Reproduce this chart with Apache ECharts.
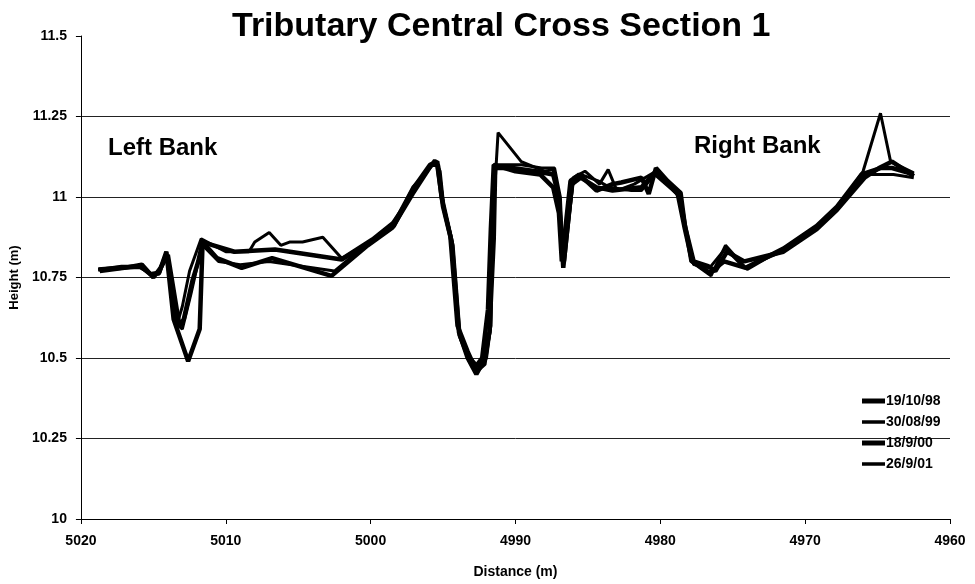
<!DOCTYPE html>
<html>
<head>
<meta charset="utf-8">
<script src="https://cdn.jsdelivr.net/npm/echarts@6/dist/echarts.min.js"></script>
<style>
  html, body { margin: 0; padding: 0; background: #fff; }
  #main { width: 975px; height: 584px; }
</style>
</head>
<body>
<div id="main"></div>
<script>
var seriesNames = ['19/10/98', '30/08/99', '18/9/00', '26/9/01'];
var yTicks = [10, 10.25, 10.5, 10.75, 11, 11.25, 11.5];
var xTicks = [5020, 5010, 5000, 4990, 4980, 4970, 4960];

// 19/10/98
var dist98 = [5018.8, 5017.2, 5015.9, 5015.2, 5014.6, 5014.1, 5013.6, 5012.6, 5011.8, 5011.6, 5010.6, 5008.9, 5006.8, 5002.7, 5000.2, 4998.5, 4997.1, 4995.8, 4995.4, 4995.0, 4994.4, 4993.9, 4993.3, 4992.7, 4992.2, 4991.8, 4991.5, 4991.4, 4990.2, 4988.6, 4987.4, 4987.0, 4986.7, 4986.1, 4985.5, 4984.4, 4983.3, 4981.3, 4980.3, 4978.8, 4978.3, 4977.8, 4976.6, 4975.6, 4974.1, 4971.5, 4969.2, 4967.8, 4966.1, 4964.8, 4964.0, 4962.5];
var h98 = [10.775, 10.78, 10.785, 10.76, 10.765, 10.83, 10.62, 10.49, 10.59, 10.86, 10.81, 10.78, 10.81, 10.755, 10.85, 10.905, 11.01, 11.1, 11.1, 10.97, 10.86, 10.58, 10.5, 10.45, 10.49, 10.58, 10.87, 11.09, 11.09, 11.08, 11.07, 11.0, 10.78, 11.04, 11.06, 11.03, 11.02, 11.03, 11.08, 11.01, 10.9, 10.8, 10.765, 10.8, 10.78, 10.84, 10.91, 10.97, 11.07, 11.09, 11.09, 11.07];

// 30/08/99
var dist99 = [5018.8, 5017.2, 5015.9, 5015.1, 5014.6, 5014.1, 5013.4, 5013.0, 5012.5, 5011.7, 5010.0, 5008.4, 5008.0, 5007.0, 5006.2, 5005.6, 5004.7, 5003.3, 5002.0, 4999.9, 4998.5, 4997.0, 4995.6, 4995.2, 4994.9, 4994.3, 4993.8, 4993.1, 4992.5, 4992.0, 4991.7, 4991.6, 4991.2, 4989.6, 4988.0, 4987.4, 4987.0, 4986.6, 4986.0, 4985.2, 4984.2, 4983.6, 4983.0, 4981.8, 4980.3, 4978.7, 4978.2, 4977.9, 4976.5, 4975.5, 4974.7, 4974.0, 4971.5, 4969.2, 4967.7, 4966.0, 4964.8, 4964.1, 4962.5];
var h99 = [10.775, 10.785, 10.785, 10.755, 10.77, 10.83, 10.6, 10.66, 10.77, 10.87, 10.83, 10.83, 10.86, 10.89, 10.85, 10.86, 10.86, 10.875, 10.81, 10.87, 10.92, 11.02, 11.115, 11.08, 10.95, 10.85, 10.56, 10.5, 10.47, 10.5, 10.6, 10.9, 11.2, 11.11, 11.08, 11.085, 11.0, 10.8, 11.06, 11.08, 11.04, 11.085, 11.02, 11.04, 11.08, 11.0, 10.88, 10.8, 10.755, 10.85, 10.81, 10.775, 10.84, 10.91, 10.97, 11.08, 11.26, 11.11, 11.075];

// 18/9/00
var dist00 = [5018.7, 5017.0, 5015.8, 5015.0, 5014.5, 5014.0, 5013.2, 5012.9, 5012.3, 5011.9, 5011.6, 5009.4, 5006.6, 5002.0, 5000.0, 4998.4, 4997.0, 4995.9, 4995.4, 4995.1, 4994.5, 4994.0, 4993.3, 4992.8, 4992.3, 4991.9, 4991.7, 4991.5, 4990.0, 4988.3, 4987.4, 4987.0, 4986.8, 4986.2, 4985.6, 4984.4, 4983.3, 4982.7, 4981.3, 4980.8, 4980.3, 4979.5, 4978.6, 4978.3, 4977.7, 4976.7, 4976.2, 4975.4, 4974.2, 4971.5, 4969.2, 4967.8, 4965.9, 4964.9, 4964.0, 4962.5];
var h00 = [10.77, 10.78, 10.79, 10.75, 10.78, 10.82, 10.6, 10.62, 10.74, 10.8, 10.86, 10.83, 10.837, 10.806, 10.86, 10.91, 11.03, 11.1, 11.11, 11.0, 10.88, 10.6, 10.52, 10.47, 10.5, 10.65, 10.9, 11.1, 11.08, 11.07, 11.03, 10.95, 10.8, 11.05, 11.07, 11.02, 11.04, 11.045, 11.06, 11.01, 11.09, 11.05, 11.013, 10.91, 10.8, 10.785, 10.77, 10.83, 10.8, 10.83, 10.9, 10.96, 11.06, 11.09, 11.11, 11.065];

// 26/9/01
var dist01 = [5018.8, 5017.2, 5015.9, 5015.1, 5014.6, 5014.1, 5013.5, 5013.0, 5012.4, 5012.0, 5011.6, 5010.5, 5009.0, 5007.0, 5002.5, 5000.1, 4998.4, 4997.1, 4995.7, 4995.3, 4995.0, 4994.4, 4993.9, 4993.2, 4992.6, 4992.1, 4991.7, 4991.5, 4989.6, 4988.2, 4987.3, 4986.9, 4986.7, 4986.0, 4985.5, 4984.3, 4983.5, 4982.0, 4981.3, 4980.4, 4978.6, 4978.2, 4977.7, 4976.6, 4975.5, 4974.2, 4971.6, 4969.3, 4967.8, 4966.0, 4964.8, 4963.9, 4962.5];
var h01 = [10.775, 10.78, 10.78, 10.76, 10.76, 10.82, 10.61, 10.59, 10.7, 10.78, 10.85, 10.8, 10.79, 10.8, 10.77, 10.86, 10.92, 11.03, 11.1, 11.1, 10.98, 10.87, 10.57, 10.49, 10.46, 10.48, 10.6, 11.1, 11.1, 11.09, 11.09, 11.0, 10.79, 11.05, 11.07, 11.05, 11.03, 11.02, 11.02, 11.07, 11.0, 10.9, 10.79, 10.78, 10.84, 10.78, 10.83, 10.9, 10.96, 11.07, 11.07, 11.07, 11.06];

var lineWidths = [4.5, 3, 4.5, 3];

function pairs(xs, ys) {
  var out = [];
  for (var i = 0; i < xs.length; i++) out.push([xs[i], ys[i]]);
  return out;
}

var allData = [pairs(dist98, h98), pairs(dist99, h99), pairs(dist00, h00), pairs(dist01, h01)];

var myChart = echarts.init(document.getElementById('main'));
var font = 'Arial, "Liberation Sans", sans-serif';

// legend bars: thick for 98 and 00, thinner for 99 and 01
var legendData = seriesNames.map(function (name, i) {
  return { name: name, icon: i % 2 === 0 ? 'path://M0,0H23V5H0Z' : 'path://M0,0H23V3.5H0Z' };
});

var option = {
  backgroundColor: '#fff',
  animation: false,
  title: {
    text: 'Tributary Central Cross Section 1',
    left: 227,
    top: 5,
    textStyle: { fontFamily: font, fontSize: 34, fontWeight: 'bold', color: '#000' }
  },
  legend: {
    orient: 'vertical',
    left: 862,
    top: 394,
    itemWidth: 23,
    itemHeight: 14,
    itemGap: 7,
    padding: 0,
    data: legendData,
    itemStyle: { color: '#000' },
    textStyle: { fontFamily: font, fontSize: 14, fontWeight: 'bold', color: '#000', padding: [0, 0, 0, -4] }
  },
  grid: { left: 78, right: 25, top: 36, bottom: 64 },
  xAxis: {
    type: 'value',
    inverse: true,
    min: xTicks[xTicks.length - 1],
    max: xTicks[0],
    interval: 10,
    name: 'Distance (m)',
    nameLocation: 'middle',
    nameGap: 46,
    nameTextStyle: { fontFamily: font, fontSize: 14, fontWeight: 'bold', color: '#000' },
    axisLine: { lineStyle: { color: '#000', width: 1 } },
    axisTick: { show: true, length: 5, inside: false, lineStyle: { color: '#000' } },
    axisLabel: {
      fontFamily: font, fontSize: 14, fontWeight: 'bold', color: '#000', margin: 15,
      formatter: function (v) { return String(v); }
    },
    splitLine: { show: false }
  },
  yAxis: {
    type: 'value',
    min: yTicks[0],
    max: yTicks[yTicks.length - 1],
    interval: 0.25,
    name: 'Height (m)',
    nameLocation: 'middle',
    nameGap: 48,
    nameTextStyle: { fontFamily: font, fontSize: 13, fontWeight: 'bold', color: '#000' },
    axisLine: { show: true, lineStyle: { color: '#000', width: 1 } },
    axisTick: { show: true, length: 5, lineStyle: { color: '#000' } },
    axisLabel: { fontFamily: font, fontSize: 14, fontWeight: 'bold', color: '#000', margin: 14 },
    splitLine: { show: true, showMaxLine: false, lineStyle: { color: '#222', width: 1 } }
  },
  graphic: [
    { type: 'text', left: 108, top: 136, style: { text: 'Left Bank', font: 'bold 24px ' + font, fill: '#000' } },
    { type: 'text', left: 694, top: 134, style: { text: 'Right Bank', font: 'bold 24px ' + font, fill: '#000' } }
  ],
  series: seriesNames.map(function (name, i) {
    return {
      name: name,
      type: 'line',
      data: allData[i],
      symbol: 'none',
      lineStyle: { color: '#000', width: lineWidths[i] },
      itemStyle: { color: '#000' }
    };
  })
};

myChart.setOption(option);
</script>
</body>
</html>
